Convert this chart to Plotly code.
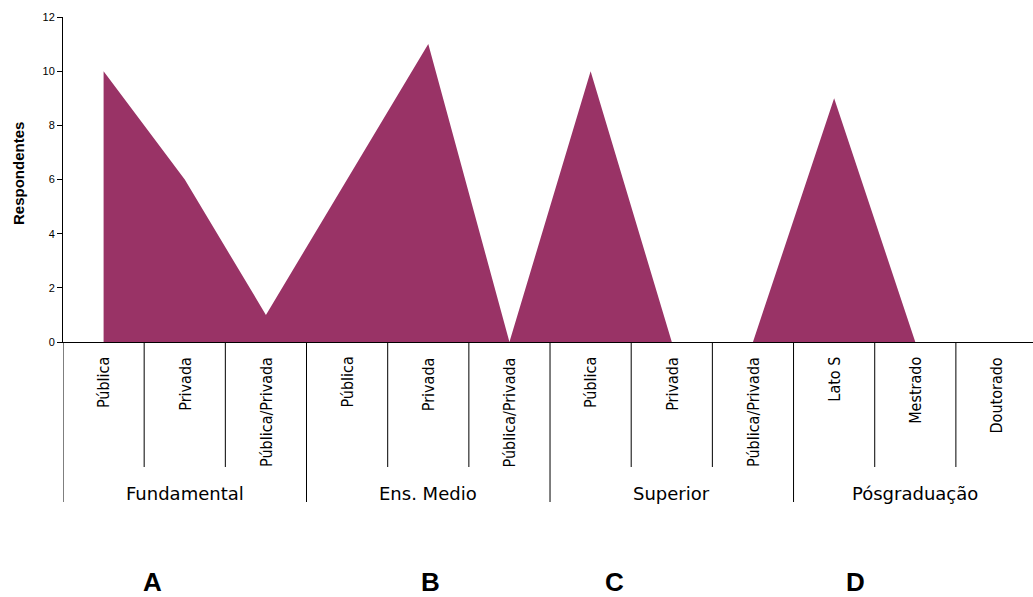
import plotly.graph_objects as go

# Survey respondents by schooling level and type of institution
groups = ["Fundamental", "Ens. Medio", "Superior", "Pósgraduação"]
subcategories = [
    ["Pública", "Privada", "Pública/Privada"],
    ["Pública", "Privada", "Pública/Privada"],
    ["Pública", "Privada", "Pública/Privada"],
    ["Lato S", "Mestrado", "Doutorado"],
]
respondentes = [10, 6, 1, 6, 11, 0, 10, 0, 0, 9, 0, 0]
panel_letters = ["A", "B", "C", "D"]
panel_letter_x = [0.092, 0.379, 0.569, 0.817]
y_ticks = [0, 2, 4, 6, 8, 10, 12]

FILL = "#993366"
NARROW = "Liberation Sans Narrow, Arial Narrow, DejaVu Sans Condensed, sans-serif"
SANS = "Liberation Sans, Arial, sans-serif"

flat_labels = [lab for grp in subcategories for lab in grp]
xpos = list(range(len(flat_labels)))

fig = go.Figure()
fig.add_trace(go.Scatter(
    x=xpos, y=respondentes, mode="lines",
    line=dict(color=FILL, width=0),
    fill="tozeroy", fillcolor=FILL,
    hoverinfo="x+y", showlegend=False,
))

W, H = 1033, 597
ml, mt, mb = 63, 17, 255
plot_h = H - mt - mb

def py(pixel_y):
    # pixel row -> paper fraction relative to the plot area
    return (H - mb - pixel_y) / plot_h

annotations = []
shapes = []

# inner category labels (rotated) and their dividers
for i, lab in enumerate(flat_labels):
    annotations.append(dict(
        x=i, xref="x", y=py(355), yref="paper",
        text=lab, textangle=-90, showarrow=False,
        xanchor="center", yanchor="top",
        font=dict(family=NARROW, size=16, color="#000000"),
    ))
start = 0
for g, grp in enumerate(subcategories):
    # group boundary line
    shapes.append(dict(type="line", xref="x", yref="paper",
                       x0=start - 0.5, x1=start - 0.5, y0=0, y1=py(502),
                       line=dict(color="#000000", width=1)))
    for k in range(1, len(grp)):
        xs = start + k - 0.5
        shapes.append(dict(type="line", xref="x", yref="paper",
                           x0=xs, x1=xs, y0=0, y1=py(467),
                           line=dict(color="#000000", width=1)))
    annotations.append(dict(
        x=start + (len(grp) - 1) / 2, xref="x", y=py(493), yref="paper",
        text=groups[g], showarrow=False, xanchor="center", yanchor="middle",
        font=dict(family="DejaVu Sans, sans-serif", size=18, color="#000000"),
    ))
    start += len(grp)

# panel letters under the groups
for letter, lx in zip(panel_letters, panel_letter_x):
    annotations.append(dict(
        x=lx, xref="paper", y=py(582), yref="paper",
        text=f"<b>{letter}</b>", showarrow=False,
        xanchor="center", yanchor="middle",
        font=dict(family=SANS, size=26, color="#000000"),
    ))

# y-axis title
annotations.append(dict(
    x=-45 / (W - ml), xref="paper", y=py(174), yref="paper",
    text="<b>Respondentes</b>", textangle=-90, showarrow=False,
    xanchor="center", yanchor="middle",
    font=dict(family=SANS, size=15, color="#000000"),
))

fig.update_layout(
    width=W, height=H,
    margin=dict(l=ml, r=0, t=mt, b=mb, pad=0),
    paper_bgcolor="white", plot_bgcolor="white",
    xaxis=dict(range=[-0.5, 11.45], showticklabels=False, ticks="",
               showgrid=False, zeroline=False, showline=True,
               linecolor="#000000", linewidth=1, fixedrange=True),
    yaxis=dict(range=[0, 12], tickvals=y_ticks, ticks="outside", ticklen=5,
               tickcolor="#000000", showgrid=False, zeroline=False,
               showline=True, linecolor="#000000", linewidth=1,
               tickfont=dict(family=SANS, size=11, color="#000000"),
               fixedrange=True),
    annotations=annotations,
    shapes=shapes,
)

fig.write_html("out.html")
